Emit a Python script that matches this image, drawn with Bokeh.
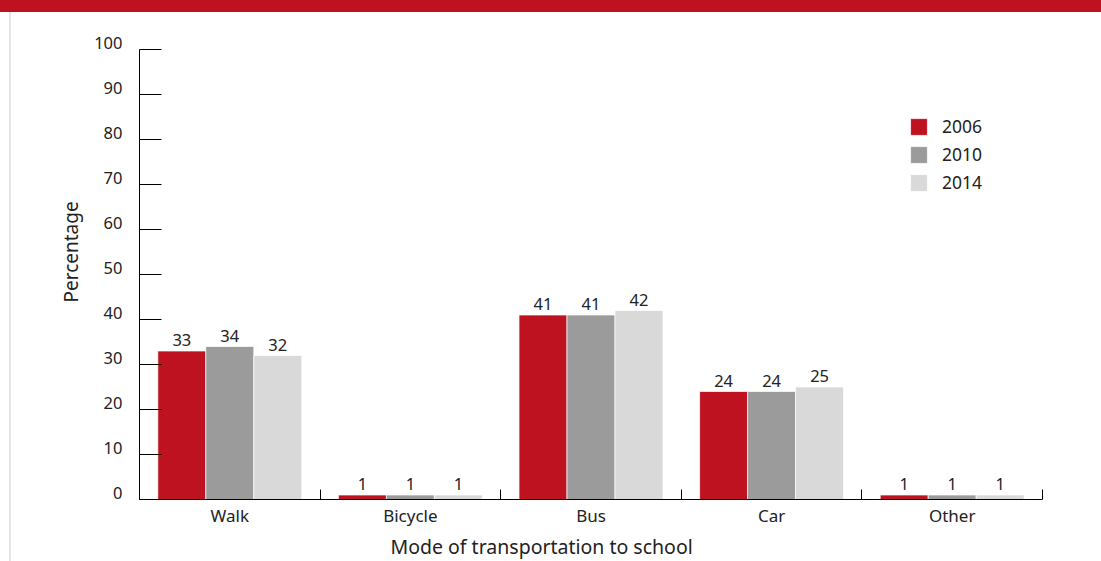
from bokeh.plotting import figure
from bokeh.models import Range1d, FixedTicker, LabelSet, ColumnDataSource, Div, Spacer, LinearAxis, Title
from bokeh.layouts import column, row
from bokeh.transform import dodge
from bokeh.core.properties import value
from bokeh.embed import file_html
from bokeh.resources import INLINE

# ---- data ----
categories = ["Walk", "Bicycle", "Bus", "Car", "Other"]
years = ["2006", "2010", "2014"]
v2006 = [33, 1, 41, 24, 1]
v2010 = [34, 1, 41, 24, 1]
v2014 = [32, 1, 42, 25, 1]
y_ticks = [0, 10, 20, 30, 40, 50, 60, 70, 80, 90, 100]

# ---- style ----
RED = "#be1220"
colors = [RED, "#9b9b9b", "#d9d9d9"]
FONT = "Noto Sans"
TXT = "#222222"
Y_TOP = 104          # frame extends a little above the 100 tick
LABEL_SHIFT = 1.5    # tick labels sit slightly above their ticks

centers = [i + 0.5 for i in range(len(categories))]
series = {"2006": v2006, "2010": v2010, "2014": v2014}
src = ColumnDataSource(dict(
    x=centers,
    **{"v" + y: series[y] for y in years},
    **{"t" + y: [str(v) for v in series[y]] for y in years},
))

p = figure(width=1090, height=549, output_backend="svg", toolbar_location=None,
           x_range=Range1d(0, len(categories)), y_range=Range1d(0, Y_TOP),
           min_border_left=128, min_border_right=59, min_border_top=19, min_border_bottom=62,
           outline_line_color=None)
p.grid.visible = False

slot = 0.2657
offsets = [-slot, 0.0, slot]
for y, c, off in zip(years, colors, offsets):
    p.vbar(x=dodge("x", off), top="v" + y, bottom=0, width=slot, source=src,
           fill_color=c, line_color="white", line_alpha=0.7, line_width=1, legend_label=y)
    lbl = LabelSet(x=dodge("x", off), y="v" + y, text="t" + y, source=src,
                   text_align="center", text_baseline="alphabetic", y_offset=5,
                   text_font=value(FONT), text_font_size="16.5px", text_color=TXT)
    p.add_layout(lbl)

# x axis
xa = p.xaxis[0]
xa.ticker = FixedTicker(ticks=centers, minor_ticks=list(range(len(categories) + 1)))
xa.major_label_overrides = {c: n for c, n in zip(centers, categories)}
xa.major_tick_in = 0
xa.major_tick_out = 0
xa.minor_tick_in = 10
xa.minor_tick_out = 0
xa.minor_tick_line_color = "black"
xa.axis_line_color = "black"
xa.major_label_standoff = 4
xa.major_label_text_font = FONT
xa.major_label_text_font_size = "17px"
xa.major_label_text_color = TXT

p.add_layout(Title(text="Mode of transportation to school", align="left", offset=251,
                   standoff=2, text_font=FONT, text_font_size="19.5px",
                   text_font_style="normal", text_color=TXT), "below")

# y axis: line + ticks (ticks drawn as minor ticks, no labels)
ya = p.yaxis[0]
ya.bounds = (0, 100)
ya.ticker = FixedTicker(ticks=[], minor_ticks=y_ticks)
ya.minor_tick_in = 22
ya.minor_tick_out = 0
ya.minor_tick_line_color = "black"
ya.major_tick_in = 0
ya.major_tick_out = 0
ya.major_label_standoff = 0
ya.axis_line_color = "black"

# y tick labels: a second axis whose range is shifted so labels sit on top of the ticks
p.extra_y_ranges = {"lab": Range1d(-LABEL_SHIFT, Y_TOP - LABEL_SHIFT)}
ylab = LinearAxis(y_range_name="lab", ticker=FixedTicker(ticks=y_ticks, minor_ticks=[]),
                  axis_line_color=None, major_tick_in=0, major_tick_out=0,
                  minor_tick_in=0, minor_tick_out=0, major_label_standoff=17,
                  major_label_text_font=FONT, major_label_text_font_size="16.5px",
                  major_label_text_color=TXT)
p.add_layout(ylab, "left")

p.add_layout(Title(text="Percentage", align="left", offset=197, standoff=16,
                   text_font=FONT, text_font_size="19px", text_font_style="normal",
                   text_color=TXT), "left")

# legend
lg = p.legend[0]
lg.location = (769, 305)
lg.border_line_color = None
lg.background_fill_alpha = 0
lg.padding = 0
lg.margin = 0
lg.glyph_width = 21
lg.glyph_height = 21
lg.label_height = 21
lg.spacing = 4
lg.label_standoff = 13
lg.label_text_font = FONT
lg.label_text_font_size = "17.5px"
lg.label_text_color = TXT

band = Div(width=1101, height=12, margin=0, styles={"background-color": RED})
gline = Div(width=2, height=549, margin=0, styles={"background-color": "#e6e6e6"})
layout = column(band, row(Spacer(width=9, height=549, margin=0), gline, p, spacing=0), spacing=0)

html = file_html(layout, INLINE)
html = html.replace("<head>", "<head><style>html,body{margin:0;padding:0;overflow:hidden}</style>", 1)
open("out.html", "w").write(html)
